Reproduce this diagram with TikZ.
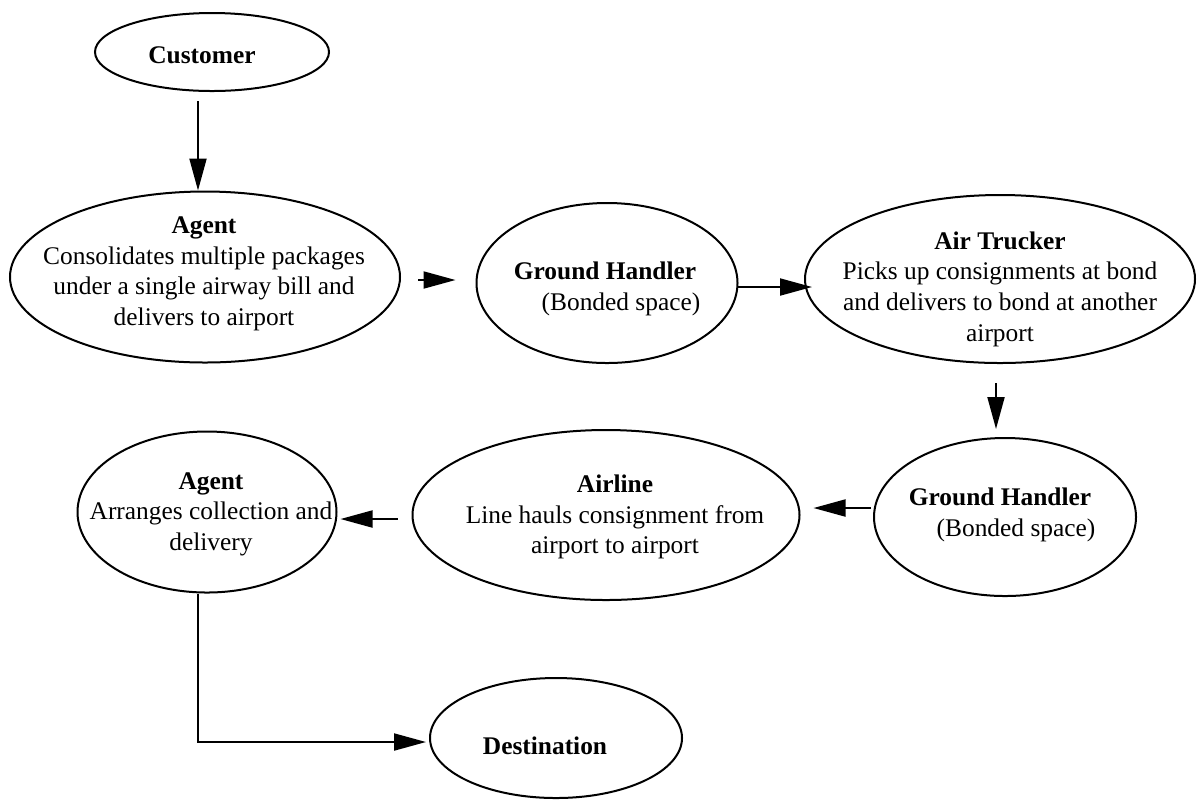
\documentclass[tikz,border=0pt]{standalone}
\usepackage{fontspec}
\setmainfont{Liberation Serif}
\usetikzlibrary{shapes.geometric,arrows.meta,calc}
\begin{document}
\begin{tikzpicture}[x=0.5pt,y=-0.5pt,
  ell/.style={ellipse,draw,line width=1pt,inner sep=0pt},
  txt/.style={inner sep=0pt,align=center,font=\fontsize{12.7}{15.3}\selectfont},
  arr/.style={line width=1pt,-{Triangle[length=16pt,width=8.5pt]}}]
\useasboundingbox (0,0) rectangle (1197,800);
\node[ell,minimum width=117pt,minimum height=39pt] (cust) at (212,52) {};
\node[ell,minimum width=195pt,minimum height=85.5pt] (agent1) at (205,277) {};
\node[ell,minimum width=130.5pt,minimum height=80pt] (gh1) at (607,283) {};
\node[ell,minimum width=195pt,minimum height=84pt] (truck) at (1000,279) {};
\node[ell,minimum width=131pt,minimum height=79pt] (gh2) at (1005,517) {};
\node[ell,minimum width=193.5pt,minimum height=85pt] (airline) at (606,515) {};
\node[ell,minimum width=129.5pt,minimum height=80.5pt] (agent2) at (207,512) {};
\node[ell,minimum width=126pt,minimum height=60pt] (dest) at (556,738) {};
\node[txt] (cust-t) at (202,55) {\textbf{Customer}};
\node[txt] (agent1-t) at (204,274)
  {\textbf{Agent}\\Consolidates multiple packages\\under a single airway bill and\\delivers to airport};
\node[txt] (gh1-t) at (605,289) {\textbf{Ground Handler}\\\hspace*{16pt}(Bonded space)};
\node[txt] (truck-t) at (1000,289)
  {\textbf{Air Trucker}\\Picks up consignments at bond\\and delivers to bond at another\\airport};
\node[txt] (gh2-t) at (1000,515) {\textbf{Ground Handler}\\\hspace*{16pt}(Bonded space)};
\node[txt] (airline-t) at (615,517) {\textbf{Airline}\\Line hauls consignment from\\airport to airport};
\node[txt] (agent2-t) at (211,514) {\textbf{Agent}\\Arranges collection and\\delivery};
\node[txt] (dest-t) at (545,746) {\textbf{Destination}};
\draw[arr] ($(cust.south)+(-14,9)$) -- ($(agent1.north)+(-7,0)$);
\draw[arr] ($(agent1.east)+(17,3)$) -- ($(gh1.west)+(-20,-3)$);
\draw[arr] ($(gh1.east)+(-1,4)$) -- ($(truck.west)+(8,8)$);
\draw[arr] ($(truck.south)+(-4,19)$) -- ($(gh2.north)+(-9,-8)$);
\draw[arr] ($(gh2.west)+(-2,-9)$) -- ($(airline.east)+(13,-7)$);
\draw[arr] ($(airline.west)+(-14,4)$) -- ($(agent2.east)+(3,7)$);
\draw[arr] ($(agent2.south)+(-9,0)$) |- ($(dest.west)+(-3,4)$);
\end{tikzpicture}
\end{document}
